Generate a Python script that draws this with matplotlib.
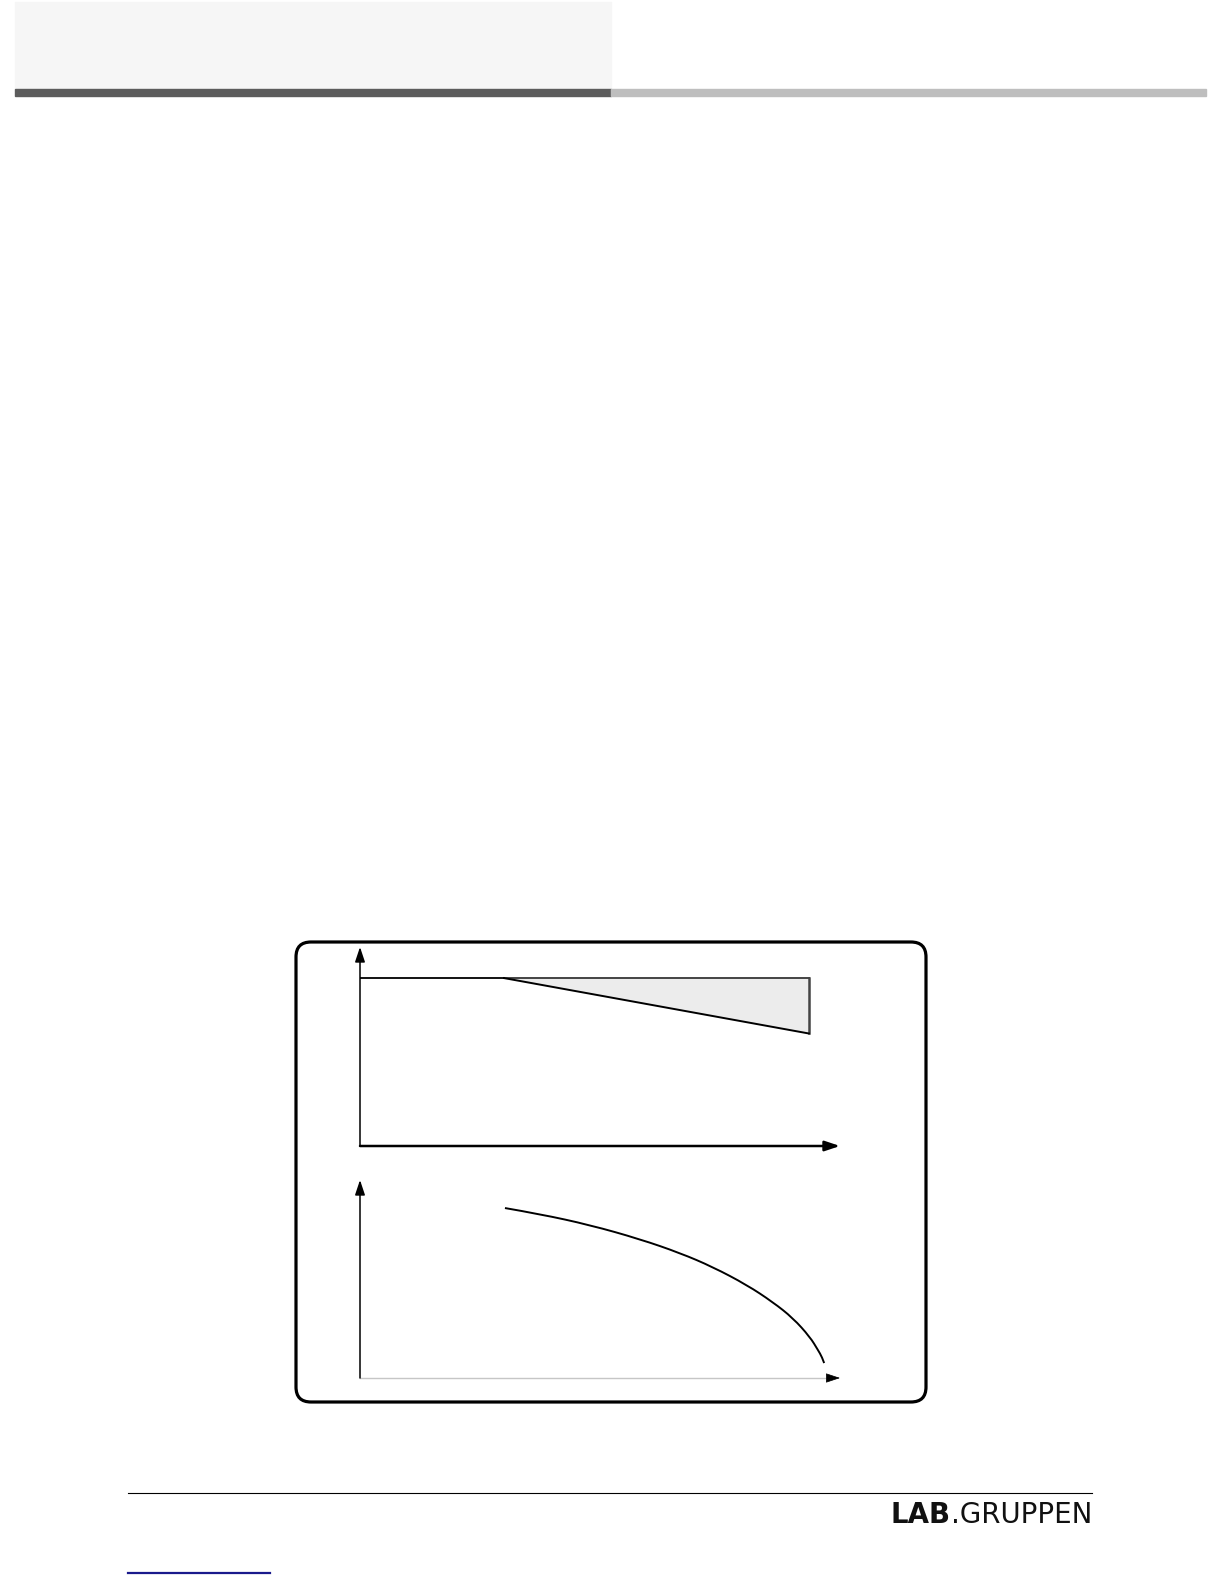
import matplotlib
matplotlib.use("Agg")
import matplotlib.pyplot as plt
from matplotlib.patches import FancyBboxPatch, Rectangle, PathPatch
from matplotlib.path import Path

# page size in pixels (dpi 100)
W, H = 1224, 1584

# upper diagram: flat level, then a sloping limit with shaded area
upper_x = [0, 30, 93.5]
upper_level = [100, 100, 100]
upper_limit = [100, 100, 67]
upper_xmax, upper_ymax = 100, 118.5

# lower diagram: falling curve
curve_x = [30.2, 37.5, 47.9, 58.3, 66.7, 73.5, 80.6, 86.0, 90.2, 93.75, 95.4, 96.25, 96.7]
curve_y = [101.2, 97.6, 91.1, 82.7, 74.4, 66.1, 55.4, 45.2, 35.7, 24.4, 16.7, 12.5, 8.9]
lower_xmax, lower_ymax = 100, 117.9

logo_bold = "LAB"
logo_text = ".GRUPPEN"

fig = plt.figure(figsize=(W / 100, H / 100), dpi=100)
fig.patch.set_facecolor("white")


def px_box(x0, y0, x1, y1):
    # pixel box (top-left origin) -> figure fractions
    return [x0 / W, 1 - y1 / H, (x1 - x0) / W, (y1 - y0) / H]


# header
fig.patches.append(Rectangle((15 / W, 1 - 89 / H), (611 - 15) / W, 87 / H,
                             transform=fig.transFigure, color="#f6f6f6", zorder=0))
fig.patches.append(Rectangle((15 / W, 1 - 96 / H), (611 - 15) / W, 7 / H,
                             transform=fig.transFigure, color="#5c5c5c", zorder=1))
fig.patches.append(Rectangle((611 / W, 1 - 96 / H), (1206 - 611) / W, 7 / H,
                             transform=fig.transFigure, color="#bebebe", zorder=1))

# frame round the diagrams
fig.patches.append(FancyBboxPatch((2.96, 15.84 - 14.02), 6.30, 4.60,
                                  boxstyle="round,pad=0,rounding_size=0.15",
                                  transform=fig.dpi_scale_trans, fill=False,
                                  edgecolor="black", linewidth=2.3, zorder=2))

arrow = dict(arrowstyle="-|>,head_length=0.9,head_width=0.3", color="black",
             mutation_scale=10, shrinkA=0, shrinkB=0)

# upper diagram
ax1 = fig.add_axes(px_box(360, 947, 840, 1146))
ax1.set_xlim(0, upper_xmax)
ax1.set_ylim(0, upper_ymax)
ax1.axis("off")
ax1.fill_between(upper_x[1:], upper_limit[1:], upper_level[1:], color="#ececec",
                 linewidth=0, zorder=1)
ax1.plot(upper_x[1:], upper_level[1:], color="#444444", lw=1.4, zorder=2)
ax1.plot([upper_x[-1], upper_x[-1]], [upper_limit[-1], upper_level[-1]],
         color="#444444", lw=1.8, zorder=2)
ax1.plot(upper_x[:2], upper_level[:2], color="black", lw=1.3, zorder=3)
ax1.plot(upper_x[1:], upper_limit[1:], color="black", lw=1.4, zorder=3)
ax1.annotate("", xy=(0, upper_ymax), xytext=(0, 0), arrowprops=dict(arrow, lw=1.1),
             annotation_clip=False)
ax1.annotate("", xy=(upper_xmax, 0), xytext=(0, 0), arrowprops=dict(arrow, lw=1.8),
             annotation_clip=False)

# lower diagram, curve drawn as a smooth quadratic spline through the read points
ax2 = fig.add_axes(px_box(360, 1180, 840, 1378))
ax2.set_xlim(0, lower_xmax)
ax2.set_ylim(0, lower_ymax)
ax2.axis("off")
pts = list(zip(curve_x, curve_y))
verts = [pts[0]]
codes = [Path.MOVETO]
for i in range(1, len(pts) - 1):
    mid = ((pts[i][0] + pts[i + 1][0]) / 2, (pts[i][1] + pts[i + 1][1]) / 2)
    if i == len(pts) - 2:
        mid = pts[-1]
    verts += [pts[i], mid]
    codes += [Path.CURVE3, Path.CURVE3]
ax2.add_patch(PathPatch(Path(verts, codes), fill=False, edgecolor="black", lw=1.4))
ax2.annotate("", xy=(0, lower_ymax), xytext=(0, 0), arrowprops=dict(arrow, lw=1.1),
             annotation_clip=False)
ax2.plot([0, 97.5], [0, 0], color="#c6c6c6", lw=1.0, clip_on=False)
ax2.annotate("", xy=(lower_xmax, 0), xytext=(97.5, 0),
             arrowprops=dict(arrow, lw=0.5), annotation_clip=False)

# footer
fig.add_artist(plt.Line2D([128 / W, 1092 / W], [1 - 1493 / H] * 2, color="black", lw=0.8))
fig.add_artist(plt.Line2D([128 / W, 270 / W], [1 - 1573 / H] * 2, color="#1a1a8c", lw=1.6))

# logo, fitted to about 201 px wide ending at x=1092
renderer = fig.canvas.get_renderer()
size = 15
for _ in range(2):
    t2 = fig.text(1092 / W, 1 - 1523 / H, logo_text, ha="right", va="baseline",
                  fontsize=size, family="DejaVu Sans", color="#111111")
    left = t2.get_window_extent(renderer).x0 / W
    t1 = fig.text(left, 1 - 1523 / H, logo_bold, ha="right", va="baseline",
                  fontsize=size, family="DejaVu Sans", weight="bold", color="#111111")
    width = 1092 - t1.get_window_extent(renderer).x0
    if abs(width - 201) < 3:
        break
    t1.remove()
    t2.remove()
    size = size * 201 / width

fig.savefig("out.png", dpi=100)
